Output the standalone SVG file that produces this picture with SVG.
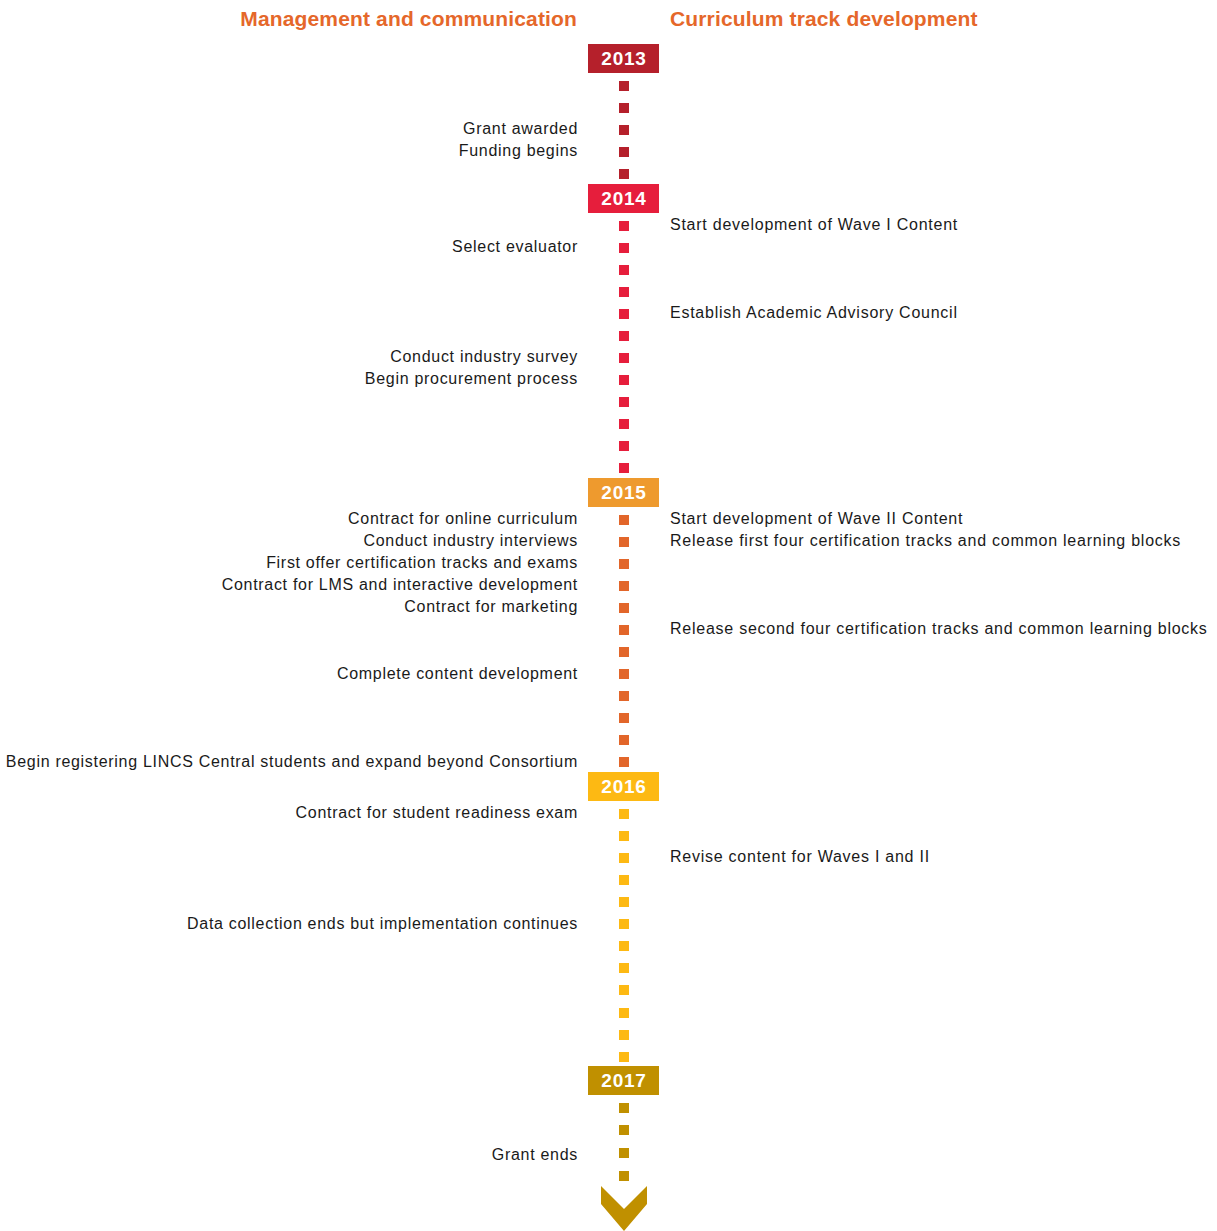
<svg xmlns="http://www.w3.org/2000/svg" width="1217" height="1231" viewBox="0 0 1217 1231">
<style>
.h{font-family:"Liberation Sans",Arial,sans-serif;font-weight:bold;font-size:21px;letter-spacing:0.15px;fill:#E5672A}
.yr{font-family:"Liberation Sans",Arial,sans-serif;font-weight:bold;font-size:19px;letter-spacing:0.8px;fill:#fff;text-anchor:middle}
.l{font-family:"Liberation Sans",Arial,sans-serif;font-size:16px;letter-spacing:0.7px;fill:#1a1a1a;text-anchor:end}
.r{font-family:"Liberation Sans",Arial,sans-serif;font-size:16px;letter-spacing:0.75px;fill:#1a1a1a}
.c13{fill:#B5202B}.c14{fill:#E61E3C}.c15b{fill:#EE9A2E}.c15{fill:#E2662A}.c16{fill:#FDB913}.c17{fill:#C09000}
</style>
<rect width="1217" height="1231" fill="#fff"/>
<text class="h" x="577" y="26" text-anchor="end">Management and communication</text>
<text class="h" x="670" y="26">Curriculum track development</text>
<g id="connectors">
<g class="c13"><rect x="619" y="81" width="10" height="10"/><rect x="619" y="103" width="10" height="10"/><rect x="619" y="125" width="10" height="10"/><rect x="619" y="147" width="10" height="10"/><rect x="619" y="169" width="10" height="10"/></g>
<g class="c14"><rect x="619" y="221" width="10" height="10"/><rect x="619" y="243" width="10" height="10"/><rect x="619" y="265" width="10" height="10"/><rect x="619" y="287" width="10" height="10"/><rect x="619" y="309" width="10" height="10"/><rect x="619" y="331" width="10" height="10"/><rect x="619" y="353" width="10" height="10"/><rect x="619" y="375" width="10" height="10"/><rect x="619" y="397" width="10" height="10"/><rect x="619" y="419" width="10" height="10"/><rect x="619" y="441" width="10" height="10"/><rect x="619" y="463" width="10" height="10"/></g>
<g class="c15"><rect x="619" y="515" width="10" height="10"/><rect x="619" y="537" width="10" height="10"/><rect x="619" y="559" width="10" height="10"/><rect x="619" y="581" width="10" height="10"/><rect x="619" y="603" width="10" height="10"/><rect x="619" y="625" width="10" height="10"/><rect x="619" y="647" width="10" height="10"/><rect x="619" y="669" width="10" height="10"/><rect x="619" y="691" width="10" height="10"/><rect x="619" y="713" width="10" height="10"/><rect x="619" y="735" width="10" height="10"/><rect x="619" y="757" width="10" height="10"/></g>
<g class="c16"><rect x="619" y="809" width="10" height="10"/><rect x="619" y="831" width="10" height="10"/><rect x="619" y="853" width="10" height="10"/><rect x="619" y="875" width="10" height="10"/><rect x="619" y="897" width="10" height="10"/><rect x="619" y="919" width="10" height="10"/><rect x="619" y="941" width="10" height="10"/><rect x="619" y="963" width="10" height="10"/><rect x="619" y="985" width="10" height="10"/><rect x="619" y="1008" width="10" height="10"/><rect x="619" y="1030" width="10" height="10"/><rect x="619" y="1052" width="10" height="10"/></g>
<g class="c17"><rect x="619" y="1103" width="10" height="10"/><rect x="619" y="1125" width="10" height="10"/><rect x="619" y="1148" width="10" height="10"/><rect x="619" y="1171" width="10" height="10"/>
<polygon points="601,1186 624,1209 647,1186 647,1204 624,1231 601,1204"/></g>
</g>
<g id="y2013"><rect class="c13" x="588" y="44" width="71" height="29"/><text class="yr" x="624" y="65">2013</text></g>
<g id="y2014"><rect class="c14" x="588" y="184" width="71" height="29"/><text class="yr" x="624" y="205">2014</text></g>
<g id="y2015"><rect class="c15b" x="588" y="478" width="71" height="29"/><text class="yr" x="624" y="499">2015</text></g>
<g id="y2016"><rect class="c16" x="588" y="772" width="71" height="29"/><text class="yr" x="624" y="793">2016</text></g>
<g id="y2017"><rect class="c17" x="588" y="1066" width="71" height="29"/><text class="yr" x="624" y="1087">2017</text></g>
<g id="left-labels">
<text class="l" x="578" y="134">Grant awarded</text>
<text class="l" x="578" y="156">Funding begins</text>
<text class="l" x="578" y="252">Select evaluator</text>
<text class="l" x="578" y="362">Conduct industry survey</text>
<text class="l" x="578" y="384">Begin procurement process</text>
<text class="l" x="578" y="524">Contract for online curriculum</text>
<text class="l" x="578" y="546">Conduct industry interviews</text>
<text class="l" x="578" y="568">First offer certification tracks and exams</text>
<text class="l" x="578" y="590">Contract for LMS and interactive development</text>
<text class="l" x="578" y="612">Contract for marketing</text>
<text class="l" x="578" y="679">Complete content development</text>
<text class="l" x="578" y="767">Begin registering LINCS Central students and expand beyond Consortium</text>
<text class="l" x="578" y="818">Contract for student readiness exam</text>
<text class="l" x="578" y="929">Data collection ends but implementation continues</text>
<text class="l" x="578" y="1160">Grant ends</text>
</g>
<g id="right-labels">
<text class="r" x="670" y="230">Start development of Wave I Content</text>
<text class="r" x="670" y="318">Establish Academic Advisory Council</text>
<text class="r" x="670" y="524">Start development of Wave II Content</text>
<text class="r" x="670" y="546">Release first four certification tracks and common learning blocks</text>
<text class="r" x="670" y="634">Release second four certification tracks and common learning blocks</text>
<text class="r" x="670" y="862">Revise content for Waves I and II</text>
</g>
</svg>
